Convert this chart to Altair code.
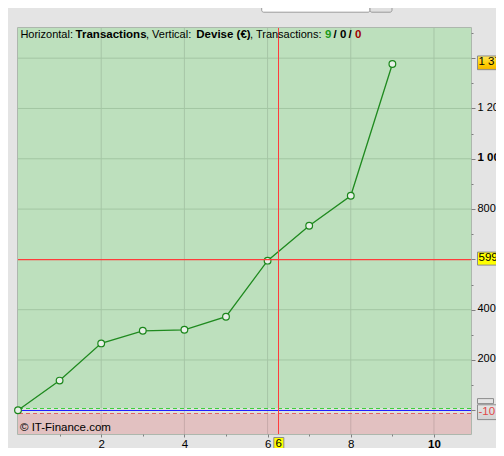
import math
import altair as alt
import pandas as pd

# ---- data ----
transactions = [0, 1, 2, 3, 4, 5, 6, 7, 8, 9]
equity = [0, 118, 266, 316, 320, 372, 595, 734, 853, 1377]
x_ticks = [1, 2, 3, 4, 5, 6, 7, 8, 9, 10]
y_ticks = list(range(-100, 1600, 100))
grid_x = [2, 4, 6, 8, 10]
grid_y = [200, 400, 800, 1000, 1200, 1400]   # the 600 line lies under the crosshair
cross_x = 6.27
cross_y = 599.1
last_value = 1377
limit_up = 7
limit_down = -13
low_label = -10

# ---- layout ----
W, H = 453, 406
PAD_L, PAD_T = 10, 20
XMAX = 10.89
YMAX = 1520
PPU = 0.2515                 # pixels per y unit
YMIN = YMAX - H / PPU
PPX = W / XMAX               # pixels per x unit
FONT = "Liberation Sans"

xs = alt.Scale(domain=[0, XMAX], nice=False, zero=False)
ys = alt.Scale(domain=[YMIN, YMAX], nice=False, zero=False)


def snap_y(v):
    p = (YMAX - v) * PPU + PAD_T
    return (math.floor(p) + 0.5) - p


def snap_x(v):
    p = v * PPX + PAD_L
    return (math.floor(p) + 0.5) - p


x_axis = alt.Axis(
    orient="bottom", values=x_ticks, grid=False, domain=False, title=None,
    labelExpr="datum.value % 2 == 0 ? datum.value : ''",
    tickSize={"condition": {"test": "datum.value % 2 == 0", "value": 3}, "value": 2},
    tickColor="#808080", labelColor="#000000", labelFont=FONT, labelFontSize=11.5,
    labelFontWeight={"condition": {"test": "datum.value == 10", "value": "bold"}, "value": "normal"},
    labelPadding=1,
)
y_axis = alt.Axis(
    orient="right", values=y_ticks, grid=False, domain=False, title=None,
    labelExpr=("datum.value > 0 && datum.value % 200 == 0 && datum.value != 600 && datum.value != 1400"
               " ? replace(format(datum.value, ','), ',', ' ') : ''"),
    tickSize={"condition": {"test": "datum.value % 200 == 0", "value": 4}, "value": 2},
    tickColor="#808080", labelColor="#000000", labelFont=FONT,
    labelFontSize={"condition": {"test": "datum.value == 1000", "value": 11.5}, "value": 11},
    labelFontWeight={"condition": {"test": "datum.value == 1000", "value": "bold"}, "value": "normal"},
    labelPadding=2, labelOffset=-1,
)


def X(field):
    return alt.X(field, scale=xs, axis=x_axis)


def Y(field):
    return alt.Y(field, scale=ys, axis=y_axis)


def px_x(p):
    return p / PPX


# background bands
bg = pd.DataFrame({
    "y": [limit_up, limit_down, YMIN],
    "y2": [YMAX, limit_up, limit_down],
    "c": ["#bde0bd", "#dde3dd", "#e2c1c1"],
})
bands = alt.Chart(bg).mark_rect().encode(
    x=alt.value(0), x2=alt.value(W),
    y=Y("y:Q"), y2="y2:Q",
    color=alt.Color("c:N", scale=None),
)

gx = alt.Chart(pd.DataFrame({"g": grid_x})).mark_rule(color="#000000", opacity=0.12).encode(
    x=X("g:Q"))
gy = alt.Chart(pd.DataFrame({"g": grid_y})).mark_rule(color="#a3c6a3").encode(
    y=Y("g:Q"))

lim_df = pd.DataFrame({"up": [limit_up], "zero": [0], "down": [limit_down]})
up_line = alt.Chart(lim_df).mark_rule(color="#3ccf3c", strokeDash=[4, 3],
                                      yOffset=snap_y(limit_up)).encode(y=Y("up:Q"))
zero_line = alt.Chart(lim_df).mark_rule(color="#1f1fff", strokeWidth=1,
                                        yOffset=snap_y(0)).encode(y=Y("zero:Q"))
down_line = alt.Chart(lim_df).mark_rule(color="#e06464", strokeDash=[4, 3],
                                        yOffset=snap_y(limit_down)).encode(y=Y("down:Q"))

cross_df = pd.DataFrame({"cx": [cross_x], "cy": [cross_y]})
cross_v = alt.Chart(cross_df).mark_rule(stroke="#ff3c3c", strokeWidth=1,
                                        xOffset=snap_x(cross_x)).encode(x=X("cx:Q"))
cross_h = alt.Chart(cross_df).mark_rule(stroke="#ff3c3c", strokeWidth=1.2).encode(
    y=Y("cy:Q"), x=alt.value(0), x2=alt.value(W))

df = pd.DataFrame({"Transactions": transactions, "Equity": equity})
line = alt.Chart(df).mark_line(color="#1f8a1f", strokeWidth=1.3).encode(
    x=X("Transactions:Q"), y=Y("Equity:Q"))
pts = alt.Chart(df).mark_point(shape="circle", filled=True, fill="#e8f0e8", stroke="#1a861a",
                               strokeWidth=1.2, size=45, opacity=1).encode(
    x=X("Transactions:Q"), y=Y("Equity:Q"))

# header text inside the plot
normal_df = pd.DataFrame({"t": ["Horizontal:", ", Vertical:", ", Transactions:"],
                          "px": [px_x(2.4), px_x(128), px_x(232)]})
bold_df = pd.DataFrame({"t": ["Transactions", "Devise (€)", "9", "/", "0", "/", "0"],
                        "px": [px_x(p) for p in [57.6, 178.3, 307, 315.5, 322, 330.5, 337]],
                        "c": ["#000000", "#000000", "#1a9a1a", "#000000", "#000000", "#000000", "#a00000"]})
head_n = alt.Chart(normal_df).mark_text(align="left", baseline="middle", font=FONT, fontSize=11,
                                        color="#000000").encode(
    x=X("px:Q"), y=alt.value(7), text="t:N")
head_b = alt.Chart(bold_df).mark_text(align="left", baseline="middle", font=FONT, fontSize=11.5,
                                      fontWeight="bold").encode(
    x=X("px:Q"), y=alt.value(7), text="t:N",
    color=alt.Color("c:N", scale=None))
copy_txt = alt.Chart(pd.DataFrame({"t": ["© IT-Finance.com"]})).mark_text(
    align="left", baseline="middle", font=FONT, fontSize=11.5, color="#000000").encode(
    x=alt.value(2), y=alt.value(H - 6), text="t:N")


# value boxes on the right axis
def box(value, half, off, fill, label, tcolor):
    d = pd.DataFrame({"v": [value], "lo": [value - half / PPU], "hi": [value + half / PPU], "t": [label]})
    r = alt.Chart(d).mark_rect(fill=fill, stroke="#8c8c8c", strokeWidth=1, yOffset=off).encode(
        x=alt.value(W + 6.5), x2=alt.value(W + 40),
        y=Y("lo:Q"), y2="hi:Q")
    t = alt.Chart(d).mark_text(align="left", baseline="middle", font=FONT, fontSize=11.5,
                               color=tcolor, dy=off).encode(
        x=alt.value(W + 7.5), y=Y("v:Q"), text="t:N")
    return r, t


gold = alt.Gradient(gradient="linear", x1=0, y1=0, x2=0, y2=1,
                    stops=[alt.GradientStop(color="#ffe55a", offset=0),
                           alt.GradientStop(color="#ffcf00", offset=0.6),
                           alt.GradientStop(color="#f2b400", offset=1)])
b1r, b1t = box(last_value, 8, -2.3, gold, "1 377", "#000000")
b2r, b2t = box(cross_y, 7.5, -2, "#ffff00", "599,1", "#000000")
greyg = alt.Gradient(gradient="linear", x1=0, y1=0, x2=0, y2=1,
                     stops=[alt.GradientStop(color="#e6e6e6", offset=0),
                            alt.GradientStop(color="#d2d2d2", offset=1)])
tab_df = pd.DataFrame({"lo": [low_label + 9.2 / PPU], "hi": [low_label + 14.2 / PPU]})
tab = alt.Chart(tab_df).mark_rect(fill="#e4e4e4", stroke="#8c8c8c", strokeWidth=1).encode(
    x=alt.value(W + 6.5), x2=alt.value(W + 22.5),
    y=Y("lo:Q"), y2="hi:Q")
b3r, b3t = box(low_label, 8, -1.2, greyg, "-10", "#e04848")

# crosshair x label at the bottom
cx_df = pd.DataFrame({"lo": [cross_x - 5 / PPX], "hi": [cross_x + 5 / PPX], "cx": [cross_x], "t": ["6"]})
cx_box = alt.Chart(cx_df).mark_rect(fill="#ffff00", stroke="#8c8c8c", strokeWidth=1).encode(
    x=X("lo:Q"), x2="hi:Q", y=alt.value(H + 3.5), y2=alt.value(H + 25))
cx_txt = alt.Chart(cx_df).mark_text(align="center", baseline="top", font=FONT, fontSize=11.5,
                                    color="#000000").encode(
    x=X("cx:Q"), y=alt.value(H + 4), text="t:N")

# bottom of the selector above the chart
sel_df = pd.DataFrame({"a": [px_x(243.7), px_x(352)], "b": [px_x(352), px_x(374)],
                       "c": ["#ffffff", "#e0e0e0"]})
sel = alt.Chart(sel_df).mark_rect(stroke="#9a9a9a", strokeWidth=1, cornerRadius=2).encode(
    x=X("a:Q"), x2="b:Q", y=alt.value(-26), y2=alt.value(-15.8),
    color=alt.Color("c:N", scale=None))

chart = alt.layer(
    bands, gx, gy, up_line, zero_line, down_line,
    line, pts, cross_v, head_n, head_b, copy_txt,
    b1r, b1t, b2r, b2t, tab, b3r, b3t, cx_box, cx_txt, sel, cross_h,
).properties(
    width=W, height=H, autosize="none",
    padding={"left": PAD_L, "top": PAD_T, "right": 25, "bottom": 14},
    background="#e4e4e4",
).configure_view(stroke="#8a9a8a", strokeWidth=1.5, strokeOpacity=0.8)

chart.save("out.html", embed_options={"renderer": "svg", "actions": False})
